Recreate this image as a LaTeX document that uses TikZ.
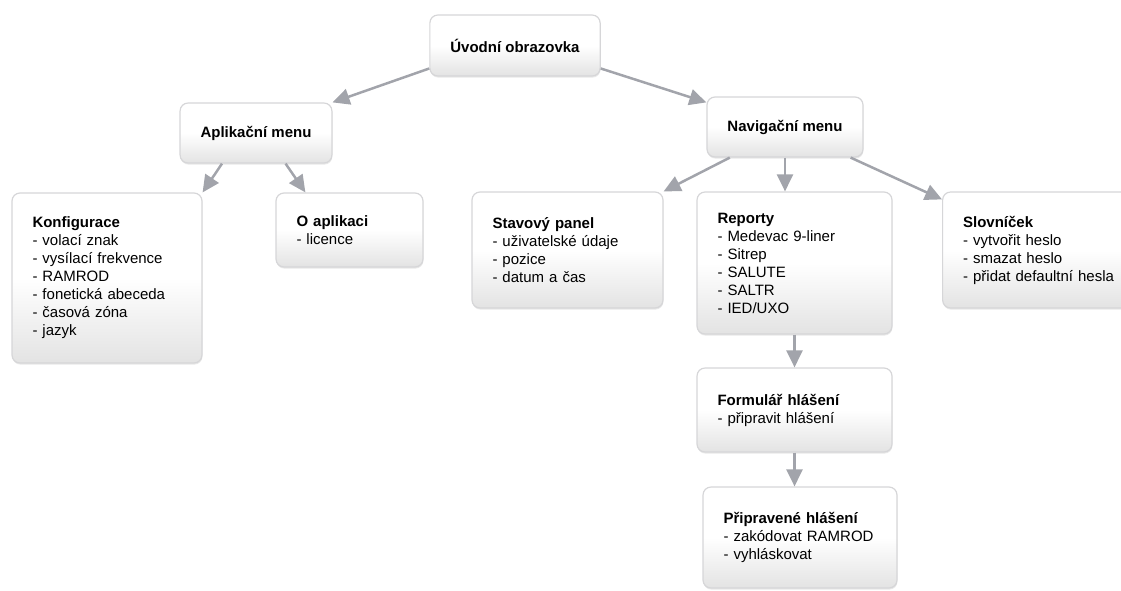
\documentclass[tikz,border=0pt]{standalone}
\usepackage{fontspec}
\setmainfont{Liberation Sans}
\usepackage{tikz}
\usetikzlibrary{arrows.meta,shadows}
\definecolor{linkgray}{RGB}{162,164,171}
\definecolor{cardline}{RGB}{214,214,216}
\tikzset{
	card/.style={draw=cardline, line width=1.2pt, rounded corners=8pt,
		top color=white, bottom color=black!11, middle color=white,
		drop shadow={shadow xshift=0.4pt, shadow yshift=-1.6pt, opacity=0.18},
		font=\fontsize{15}{18}\selectfont, inner xsep=20.5pt, inner ysep=4pt},
	list/.style={card, align=left},
	menu/.style={card, align=center},
	link/.style={draw=linkgray, line width=2.5pt, -{Triangle[length=17pt,width=16pt]}}
}

\begin{document}
\begin{tikzpicture}[x=1pt, y=-1pt]
	%%%%% START %%%%%
	\useasboundingbox (0,0) rectangle (1121,590);
	
	\node[menu, minimum width=164pt, minimum height=61pt] (uvod) at (515,45.5) {\textbf{Úvodní obrazovka}};
	\node[menu, minimum width=148pt, minimum height=60pt] (apl) at (256,133) {\textbf{Aplikační menu}};
	\node[menu, minimum width=154pt, minimum height=60pt] (nav) at (785,127) {\textbf{Navigační menu}};
	
	\node[list, text width=149pt, minimum height=170pt] (konf) at (107,278) {\textbf{Konfigurace}\\- volací znak\\- vysílací frekvence\\- RAMROD\\- fonetická abeceda\\- časová zóna\\- jazyk};
	\node[list, text width=106pt, minimum height=74pt] (oapl) at (349.5,230) {\textbf{O aplikaci}\\- licence};
	
	\node[list, text width=150pt, minimum height=116pt] (stav) at (567.5,250) {\textbf{Stavový panel}\\- uživatelské údaje\\- pozice\\- datum a čas};
	\node[list, text width=154pt, minimum height=142pt] (rep) at (794.5,263) {\textbf{Reporty}\\- Medevac 9-liner\\- Sitrep\\- SALUTE\\- SALTR\\- IED/UXO};
	\node[list, text width=170pt, minimum height=116pt, anchor=west] (slov) at (942,250) {\textbf{Slovníček}\\- vytvořit heslo\\- smazat heslo\\- přidat defaultní hesla};
	
	\node[list, text width=154pt, minimum height=84pt] (form) at (794.5,410) {\textbf{Formulář hlášení}\\- připravit hlášení};
	\node[list, text width=153pt, minimum height=101pt] (prip) at (800,537.5) {\textbf{Připravené hlášení}\\- zakódovat RAMROD\\- vyhláskovat};
	
	% arrows
	\draw[link] (uvod.-165) -- (apl.north east);
	\draw[link] (uvod.-15) -- ([yshift=-6pt]nav.north west);
	\draw[link] (apl.-138) -- (konf.north east);
	\draw[link] (apl.-46) -- ([xshift=30pt]oapl.north west);
	\draw[link] (nav.-151) -- (stav.north east);
	\draw[link] (nav.south) -- (nav.south |- rep.north);
	\draw[link] (nav.-25) -- ([yshift=-8pt]slov.north west);
	\draw[link] (rep.south) -- (form.north);
	\draw[link] (form.south) -- (form.south |- prip.north);
	%%%%% END %%%%%
\end{tikzpicture}
\end{document}
